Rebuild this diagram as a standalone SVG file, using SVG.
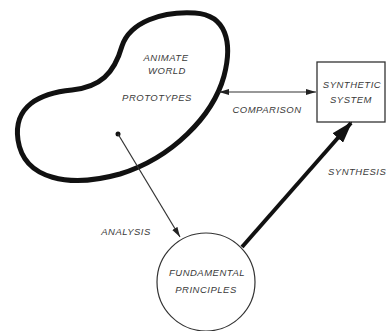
<svg xmlns="http://www.w3.org/2000/svg" width="387" height="331" viewBox="0 0 387 331">
<style>
text{font-family:"Liberation Sans",Arial,sans-serif;font-style:italic;font-size:9.5px;fill:#3a3a3a;letter-spacing:0.5px;text-anchor:middle}
.thin{stroke:#333;stroke-width:1.2;fill:none}
</style>
<defs>
<marker id="ah" markerWidth="10" markerHeight="8" refX="10" refY="4" orient="auto" markerUnits="userSpaceOnUse"><path d="M0,1 L10,4 L0,7 Z" fill="#222"/></marker>
<marker id="ahs" markerWidth="10" markerHeight="8" refX="10" refY="4" orient="auto-start-reverse" markerUnits="userSpaceOnUse"><path d="M0,1 L10,4 L0,7 Z" fill="#222"/></marker>
<marker id="ahb" markerWidth="22" markerHeight="14" refX="20" refY="7" orient="auto" markerUnits="userSpaceOnUse"><path d="M0,0 L22,7 L0,14 Z" fill="#111"/></marker>
</defs>
<rect width="387" height="331" fill="#fff"/>
<g id="animate-world">
<path d="M122,46 C130,22 162,11 195,13 C226,15 233,42 224,76 C213,116 172,158 120,174 C70,188 24,180 18,140 C13,106 40,93 72,90 C100,87 114,74 122,46 Z" fill="none" stroke="#111" stroke-width="5"/>
<text x="166" y="61">ANIMATE</text>
<text x="167" y="74">WORLD</text>
<text x="157" y="101">PROTOTYPES</text>
<circle cx="118" cy="134" r="2.5" fill="#111"/>
</g>
<g id="synthetic-system">
<rect x="317" y="62" width="68" height="60" fill="#fff" stroke="#333" stroke-width="1.3"/>
<text x="352" y="88">SYNTHETIC</text>
<text x="351" y="103">SYSTEM</text>
</g>
<g id="fundamental-principles">
<circle cx="206" cy="282" r="49" fill="#fff" stroke="#333" stroke-width="1.2"/>
<text x="207" y="276">FUNDAMENTAL</text>
<text x="206" y="293">PRINCIPLES</text>
</g>
<g id="connectors">
<line class="thin" x1="219" y1="92" x2="316" y2="92" marker-start="url(#ahs)" marker-end="url(#ah)"/>
<text x="267" y="113">COMPARISON</text>
<line class="thin" x1="118" y1="134" x2="180" y2="237" marker-end="url(#ah)"/>
<text x="126" y="235">ANALYSIS</text>
<line x1="242" y1="247" x2="351" y2="123" stroke="#111" stroke-width="4" marker-end="url(#ahb)"/>
<text x="328" y="175" style="text-anchor:start">SYNTHESIS</text>
</g>
</svg>
